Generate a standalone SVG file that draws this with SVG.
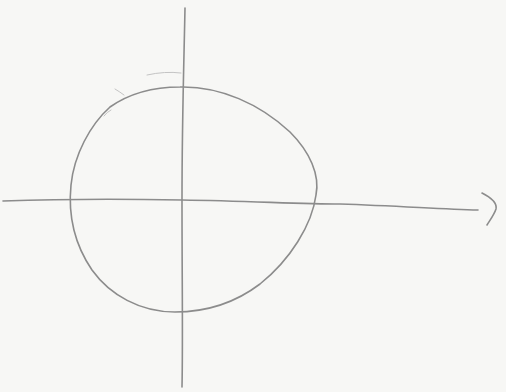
<svg xmlns="http://www.w3.org/2000/svg" width="506" height="392" viewBox="0 0 506 392">
<style>
.pen{fill:none;stroke:#8c8c8c;stroke-width:1.6;stroke-linecap:round;stroke-linejoin:round}
.faint{fill:none;stroke:#c4c4c4;stroke-width:1;stroke-linecap:round}
</style>
<rect width="506" height="392" fill="#f7f7f5"/>
<path class="pen" d="M180,87 C220,86 260,104 290,132 C310,152 320,175 316,195 C312,225 290,260 260,284 C235,303 205,312 175,312 C140,312 110,295 92,270 C75,245 68,215 71,185 C74,155 90,125 110,107 C130,93 155,87 180,87 Z"/>
<path class="pen" d="M185,8 C184,60 182,120 182,200 C182,280 183,340 182,387"/>
<path class="pen" d="M3,201 C60,199 130,199 182,200 C250,201 300,204 340,204 C400,206 440,209 478,210"/>
<path class="pen" stroke-width="2" d="M482,193 C492,198 497,204 496,209 C494,215 490,220 487,225"/>
<path class="faint" d="M115,89 Q120,92 124,95"/>
<path class="faint" d="M147,75 Q165,71 181,73"/>
<path class="faint" d="M104,116 Q107,112 111,110"/>
</svg>
